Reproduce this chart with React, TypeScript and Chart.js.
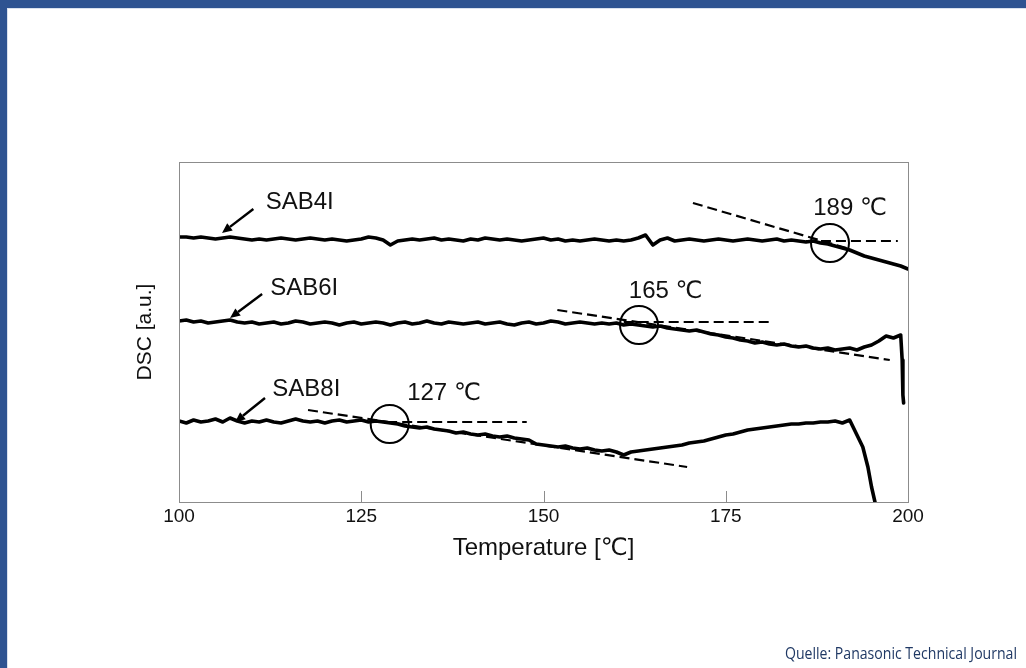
import { useEffect, useRef } from 'react';
import { Chart, registerables } from 'chart.js';

Chart.register(...registerables);

// Temperature grid (°C) for the sampled traces
const TEMPS: number[] = Array.from({ length: 101 }, (_, i) => 100 + i);

// DSC signal, arbitrary units (higher = up)
const SAB4I: number[] = [
  265, 265, 264, 265, 264, 263, 264, 265, 264, 263,
  262, 263, 262, 263, 264, 263, 262, 263, 264, 263,
  262, 263, 262, 261, 262, 263, 265, 264, 262, 257,
  261, 262, 263, 262, 263, 264, 262, 263, 262, 261,
  263, 262, 264, 263, 262, 263, 262, 261, 262, 263,
  264, 262, 263, 261, 262, 261, 262, 263, 262, 261,
  262, 261, 262, 264, 267, 257, 262, 264, 261, 262,
  263, 262, 261, 262, 263, 262, 261, 262, 263, 262,
  261, 262, 263, 261, 262, 261, 260, 261, 259, 258,
  256, 254, 252, 249, 246, 244, 242, 240, 238, 236,
  233,
];

const SAB6I: number[] = [
  181, 182, 180, 181, 179, 180, 181, 182, 180, 179,
  180, 178, 179, 180, 178, 179, 181, 180, 178, 179,
  180, 179, 177, 179, 180, 178, 179, 180, 179, 177,
  179, 180, 178, 179, 181, 179, 178, 180, 179, 178,
  179, 180, 178, 179, 180, 178, 177, 179, 180, 178,
  179, 181, 180, 178, 179, 180, 179, 178, 179, 178,
  179, 177, 178, 177, 176, 175, 176, 174, 173, 172,
  171, 172, 170, 168, 167, 165, 164, 162, 161, 159,
  160, 158, 157, 158, 156, 155, 156, 154, 153, 154,
  152, 153, 154, 152, 155, 157, 161, 166, 164, 167,
];
const SAB6I_TAIL_T: number[] = [199.2, 199.3, 199.4];
const SAB6I_TAIL_V: number[] = [142, 107, 99];

const SAB8I: number[] = [
  81, 79, 82, 80, 81, 83, 80, 84, 81, 79,
  81, 80, 82, 80, 79, 81, 83, 81, 80, 81,
  79, 81, 82, 80, 81, 82, 80, 81, 80, 79,
  78, 76, 75, 74, 75, 73, 72, 71, 69, 70,
  68, 67, 68, 66, 65, 66, 64, 63, 62, 58,
  57, 56, 55, 56, 54, 53, 54, 52, 51, 52,
  50, 47, 50, 51, 52, 53, 54, 55, 56, 57,
  59, 60, 61, 63, 65, 67, 68, 70, 72, 73,
  74, 75, 76, 77, 78, 78, 79, 79, 80, 80,
  81, 79, 82,
];
const SAB8I_TAIL_T: number[] = [193, 193.8, 194.5, 195, 195.5, 195.7];
const SAB8I_TAIL_V: number[] = [67, 55, 35, 15, -1, -8];

// Onset tangents: [t1, v1, t2, v2]
const TANGENTS: number[][] = [
  [170.5, 299, 192.0, 253],
  [186.0, 261, 198.6, 261],
  [151.9, 192, 197.5, 142],
  [161.0, 180, 181.5, 180],
  [117.7, 92, 169.7, 35],
  [126.5, 80, 147.7, 80],
];

// Onset markers (circle centres)
const ONSET_T: number[] = [189.3, 163.1, 128.9];
const ONSET_V: number[] = [259, 177, 78];
const ONSET_LABELS: string[] = ['189 ℃', '165 ℃', '127 ℃'];
const ONSET_LABEL_T: number[] = [187.0, 161.7, 131.3];
const ONSET_LABEL_V: number[] = [294, 211, 109];

// Sample labels with arrows
const SAMPLE_LABELS: string[] = ['SAB4I', 'SAB6I', 'SAB8I'];
const SAMPLE_LABEL_T: number[] = [111.9, 112.5, 112.8];
const SAMPLE_LABEL_V: number[] = [300, 214, 113];
const ARROW_FROM_T: number[] = [110.2, 111.4, 111.8];
const ARROW_FROM_V: number[] = [293, 208, 104];
const ARROW_TO_T: number[] = [105.9, 107.0, 107.7];
const ARROW_TO_V: number[] = [269, 184, 80];

const X_TICKS: number[] = [100, 125, 150, 175, 200];

const FONT = "'Liberation Sans', Arial, 'DejaVu Sans', sans-serif";

function pts(ts: number[], vs: number[]) {
  return vs.map((v, i) => ({ x: ts[i], y: v }));
}

export default function App() {
  const ref = useRef<HTMLCanvasElement | null>(null);

  useEffect(() => {
    const canvas = ref.current;
    if (!canvas) return;

    const traceStyle = {
      borderColor: '#000',
      borderWidth: 3.6,
      pointRadius: 0,
      tension: 0,
      borderJoinStyle: 'round' as const,
      borderCapStyle: 'round' as const,
    };

    const datasets: any[] = [
      { label: 'SAB4I', data: pts(TEMPS, SAB4I), ...traceStyle },
      {
        label: 'SAB6I',
        data: [...pts(TEMPS, SAB6I), ...pts(SAB6I_TAIL_T, SAB6I_TAIL_V)],
        ...traceStyle,
      },
      {
        label: 'SAB8I',
        data: [...pts(TEMPS.slice(0, SAB8I.length), SAB8I), ...pts(SAB8I_TAIL_T, SAB8I_TAIL_V)],
        ...traceStyle,
      },
      ...TANGENTS.map((t, i) => ({
        label: 'tangent' + i,
        data: [
          { x: t[0], y: t[1] },
          { x: t[2], y: t[3] },
        ],
        borderColor: '#000',
        borderWidth: 2.2,
        borderDash: [10, 5],
        pointRadius: 0,
      })),
    ];

    const framePlugin = {
      id: 'frame',
      beforeDraw(chart: any) {
        const c = chart.ctx;
        c.save();
        c.fillStyle = '#ffffff';
        c.fillRect(0, 0, chart.width, chart.height);
        c.fillStyle = '#2e5391';
        c.fillRect(0, 0, chart.width, 8);
        c.fillRect(0, 0, 7, chart.height);
        c.fillStyle = '#d9e1ee';
        c.fillRect(7, 8, chart.width - 7, 1);
        c.fillRect(7, 8, 1, chart.height - 8);
        c.restore();
      },
      afterDraw(chart: any) {
        const c = chart.ctx;
        const { left, right, top, bottom } = chart.chartArea;
        const xs = chart.scales.x;
        const ys = chart.scales.y;
        c.save();
        // plot box
        c.strokeStyle = '#8c8c8c';
        c.lineWidth = 1;
        c.strokeRect(Math.round(left) + 0.5, Math.round(top) + 0.5, Math.round(right - left), Math.round(bottom - top));
        // inner ticks
        X_TICKS.slice(1, -1).forEach((t) => {
          const px = Math.round(xs.getPixelForValue(t)) + 0.5;
          c.beginPath();
          c.moveTo(px, bottom);
          c.lineTo(px, bottom - 11);
          c.stroke();
        });
        // circles
        c.strokeStyle = '#000';
        c.lineWidth = 2;
        ONSET_T.forEach((t, i) => {
          c.beginPath();
          c.arc(xs.getPixelForValue(t), ys.getPixelForValue(ONSET_V[i]), 19, 0, Math.PI * 2);
          c.stroke();
        });
        // arrows
        c.lineWidth = 2.4;
        c.fillStyle = '#000';
        ARROW_FROM_T.forEach((t, i) => {
          const x1 = xs.getPixelForValue(t);
          const y1 = ys.getPixelForValue(ARROW_FROM_V[i]);
          const x2 = xs.getPixelForValue(ARROW_TO_T[i]);
          const y2 = ys.getPixelForValue(ARROW_TO_V[i]);
          const a = Math.atan2(y2 - y1, x2 - x1);
          const hl = 10;
          const hw = 4.5;
          const bx = x2 - hl * Math.cos(a);
          const by = y2 - hl * Math.sin(a);
          c.beginPath();
          c.moveTo(x1, y1);
          c.lineTo(bx, by);
          c.stroke();
          c.beginPath();
          c.moveTo(x2, y2);
          c.lineTo(bx + hw * Math.sin(a), by - hw * Math.cos(a));
          c.lineTo(bx - hw * Math.sin(a), by + hw * Math.cos(a));
          c.closePath();
          c.fill();
        });
        // labels
        c.fillStyle = '#111';
        c.font = `24px ${FONT}`;
        c.textAlign = 'left';
        c.textBaseline = 'middle';
        SAMPLE_LABELS.forEach((s, i) => {
          c.fillText(s, xs.getPixelForValue(SAMPLE_LABEL_T[i]), ys.getPixelForValue(SAMPLE_LABEL_V[i]));
        });
        ONSET_LABELS.forEach((s, i) => {
          c.fillText(s, xs.getPixelForValue(ONSET_LABEL_T[i]), ys.getPixelForValue(ONSET_LABEL_V[i]));
        });
        // source note
        c.fillStyle = '#1f3864';
        c.font = `16px 'Open Sans', 'DejaVu Sans', sans-serif`;
        c.textAlign = 'right';
        c.textBaseline = 'alphabetic';
        c.fillText('Quelle: Panasonic Technical Journal', 1017, 659, 232);
        c.restore();
      },
    };

    const chart = new Chart(canvas, {
      type: 'line',
      data: { datasets },
      options: {
        animation: false,
        responsive: false,
        devicePixelRatio: 1,
        layout: { padding: { left: 129, top: 162, right: 118, bottom: 102 } },
        plugins: { legend: { display: false }, tooltip: { enabled: false } },
        scales: {
          x: {
            type: 'linear',
            min: 100,
            max: 200,
            afterBuildTicks: (scale: any) => {
              scale.ticks = X_TICKS.map((v) => ({ value: v }));
            },
            afterFit: (scale: any) => {
              scale.height = 64;
            },
            grid: { display: false, drawTicks: false },
            border: { display: false },
            ticks: {
              padding: 3,
              color: '#111',
              font: { family: FONT, size: 19 },
              maxRotation: 0,
              autoSkip: false,
            },
            title: {
              display: true,
              text: 'Temperature [℃]',
              color: '#111',
              font: { family: FONT, size: 24 },
              padding: { top: 0, bottom: 3 },
            },
          },
          y: {
            type: 'linear',
            min: 0,
            max: 340,
            afterFit: (scale: any) => {
              scale.width = 50;
            },
            grid: { display: false, drawTicks: false },
            border: { display: false },
            ticks: { display: false },
            title: {
              display: true,
              text: 'DSC [a.u.]',
              color: '#111',
              font: { family: FONT, size: 21 },
              padding: { top: 4, bottom: 0 },
            },
          },
        },
      },
      plugins: [framePlugin],
    });

    return () => chart.destroy();
  }, []);

  return (
    <div style={{ position: 'fixed', left: 0, top: 0, width: 1026, height: 668, background: '#fff' }}>
      <canvas ref={ref} width={1026} height={668} style={{ display: 'block', width: 1026, height: 668 }} />
    </div>
  );
}
